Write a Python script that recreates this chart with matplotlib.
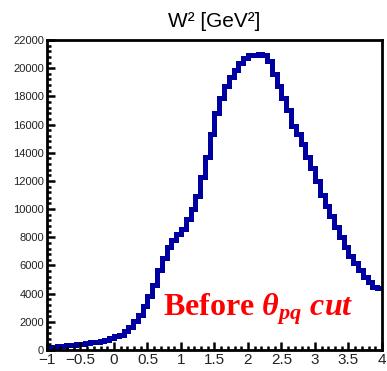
import numpy as np
import matplotlib
matplotlib.use('Agg')
import matplotlib.pyplot as plt
from matplotlib.ticker import MultipleLocator, FuncFormatter

# W^2 histogram, 70 bins between -1 and 4
edges = np.linspace(-1, 4, 71)
counts = [220, 240, 270, 300, 340, 380, 420, 460, 500, 540,
          590, 650, 740, 840, 960, 1080, 1350, 1650, 2050, 2500,
          3100, 3800, 4600, 5700, 6500, 7300, 7800, 8200, 8600, 9300,
          10000, 10900, 12300, 13700, 15300, 16800, 17900, 18700, 19400, 19900,
          20400, 20700, 20950, 20950, 20980, 20950, 20500, 19600, 18700, 17900,
          17000, 15900, 15300, 14600, 13700, 12900, 12000, 11000, 10200, 9500,
          8700, 8000, 7300, 6650, 6150, 5700, 5200, 4850, 4500, 4400]

title = 'W² [GeV²]'
label = r'$\mathrm{Before}\ \theta_{pq}\ cut$'

plt.rcParams['font.family'] = ['Liberation Sans', 'DejaVu Sans']
plt.rcParams['mathtext.fontset'] = 'custom'
plt.rcParams['mathtext.rm'] = 'Liberation Serif:bold'
plt.rcParams['mathtext.it'] = 'Liberation Serif:bold:italic'
plt.rcParams['mathtext.bf'] = 'Liberation Serif:bold'

fig = plt.figure(figsize=(3.87, 3.71), dpi=100)
ax = fig.add_axes([0.1214, 0.0566, 0.8656, 0.8356])

st = ax.stairs(counts, edges, color='#0000a0', linewidth=3.6, baseline=None)
st.set_joinstyle('miter')
st.set_capstyle('butt')

ax.set_xlim(-1, 4)
ax.set_ylim(0, 22000)
ax.xaxis.set_major_locator(MultipleLocator(0.5))
ax.xaxis.set_minor_locator(MultipleLocator(0.1))
ax.xaxis.set_major_formatter(FuncFormatter(lambda v, p: ('%g' % v).replace('-', '\u2212')))
ax.yaxis.set_major_locator(MultipleLocator(2000))
ax.yaxis.set_minor_locator(MultipleLocator(400))
ax.tick_params(which='both', direction='in', top=False, right=False, width=1.8, color='black')
ax.tick_params(which='major', length=6)
ax.tick_params(which='minor', length=3)
ax.tick_params(axis='x', labelsize=11, pad=2, labelcolor='#222222')
ax.tick_params(axis='y', labelsize=8, pad=2, labelcolor='#222222')
for s in ax.spines.values():
    s.set_linewidth(2)

ax.set_title(title, fontsize=15, pad=9)
ax.text(0.73, 2480, label, color='#ff0000', fontsize=23, va='baseline', ha='left')

fig.savefig('out.png', dpi=100)
